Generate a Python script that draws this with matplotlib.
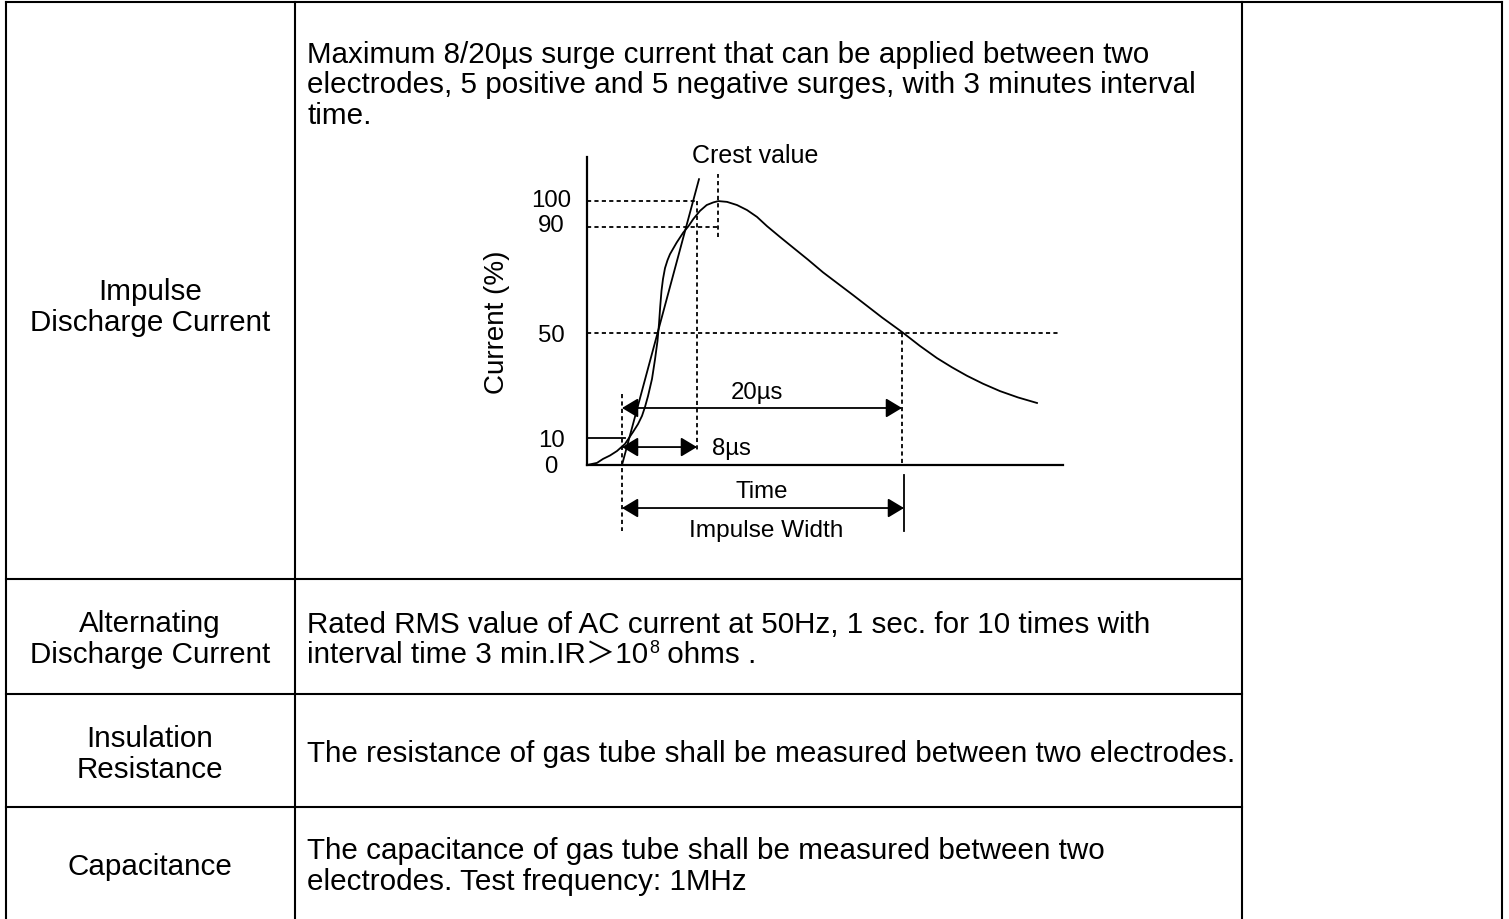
import numpy as np
import matplotlib.pyplot as plt

plt.rcParams["font.family"] = ["Liberation Sans", "Noto Sans CJK SC", "DejaVu Sans"]

W, H = 1509, 920

# ---- table content ----
row_names = [["Impulse", "Discharge Current"],
             ["Alternating", "Discharge Current"],
             ["Insulation", "Resistance"],
             ["Capacitance"]]
row_text = [["Maximum 8/20\u00b5s surge current that can be applied between two",
             "electrodes, 5 positive and 5 negative surges, with 3 minutes interval",
             "time."],
            ["Rated RMS value of AC current at 50Hz, 1 sec. for 10 times with"],
            ["The resistance of gas tube shall be measured between two electrodes."],
            ["The capacitance of gas tube shall be measured between two",
             "electrodes. Test frequency: 1MHz"]]

# ---- 8/20us waveform (time in arbitrary units, current in %) ----
t_wave = [0, 1.0, 1.6, 2.3, 3.0, 3.8, 4.6, 5.1, 5.5, 5.8, 6.1, 6.5, 6.8, 7.05, 7.2,
          7.32, 7.45, 7.6, 7.8, 8.05, 8.3, 8.97, 9.63, 10.13, 10.63, 11.3, 11.97, 12.63, 13.13,
          14.0, 15.0, 16.0, 17.0, 18.0, 19.3, 20.6, 22.1, 23.6, 25.1, 26.6, 28.0,
          29.5, 31.5, 33.3, 35.0, 36.5, 38.0, 39.6, 41.3, 43.1, 45.0]
i_wave = [0, 0.8, 2.3, 3.6, 5.3, 8.0, 12.5, 15.5, 18.6, 22.0, 26.1, 32.6, 40.0, 47.0, 53.5,
          60.0, 66.0, 70.5, 74.6, 77.6, 79.9, 84.3, 88.1, 90.4, 93.2, 96.3, 98.5, 99.5, 100,
          99.7, 98.5, 96.6, 94.0, 90.5, 86.4, 82.4, 77.8, 73.0, 68.7, 64.4, 60.3,
          55.9, 50.4, 45.1, 40.5, 37.0, 33.8, 30.8, 28.0, 25.6, 23.5]
tangent_t = [3.5, 11.2]
tangent_i = [0, 108.3]
y_labels = [100, 90, 50, 10, 0]
y_label_base = [-1.9, -1.3, -2.9, -2.7, -2.8]   # baseline offsets (%)

fig = plt.figure(figsize=(W / 100, H / 100), dpi=100)
ax = fig.add_axes([0, 0, 1, 1])
ax.set_xlim(0, W)
ax.set_ylim(H, 0)
ax.axis("off")

lw_tab = 1.5
for x in [6, 295, 1242, 1502]:
    ax.plot([x, x], [3, H + 5], color="k", lw=lw_tab, solid_capstyle="projecting")
ax.plot([6, 1502], [3, 3], color="k", lw=lw_tab, solid_capstyle="projecting")
for y in [580, 695, 808]:
    ax.plot([6, 1242], [y, y], color="k", lw=lw_tab)

fs = 21.3
# left column labels (baselines in px)
left_base = [[300, 331], [632, 663], [747, 778], [875]]
for names, bases in zip(row_names, left_base):
    for s, b in zip(names, bases):
        ax.text(150, b, s, ha="center", va="baseline", fontsize=fs)

right_base = [[63, 93, 124], [633], [762], [859, 890]]
for lines, bases in zip(row_text, right_base):
    for s, b in zip(lines, bases):
        ax.text(307, b, s, ha="left", va="baseline", fontsize=fs)

# "interval time 3 min.IR>10^8 ohms ." with a superscript
yb = 663
t1 = ax.text(307, yb, "interval time 3 min.IR\uff1e10", ha="left", va="baseline", fontsize=fs)
fig.canvas.draw()
bb = t1.get_window_extent()
t2 = ax.text(bb.x1 + 1, yb - 10, "8", ha="left", va="baseline", fontsize=13)
fig.canvas.draw()
bb2 = t2.get_window_extent()
ax.text(bb2.x1, yb, " ohms .", ha="left", va="baseline", fontsize=fs)

# ---- waveform diagram ----
axd = fig.add_axes([587 / W, 1 - 466 / H, (1063 - 587) / W, (466 - 158) / H])
axd.set_xlim(0, 47.6)
axd.set_ylim(0, 116.7)
axd.patch.set_visible(False)
for s in ["top", "right"]:
    axd.spines[s].set_visible(False)
for s in ["left", "bottom"]:
    axd.spines[s].set_linewidth(1.6)
axd.set_xticks([])
axd.set_yticks([])

lw = 1.3
dash = (0, (2.3, 1.8))
axd.plot(t_wave, i_wave, color="k", lw=lw, clip_on=False, solid_joinstyle="round")
axd.plot(tangent_t, tangent_i, color="k", lw=lw, clip_on=False)

axd.plot([0, 11.0], [100, 100], color="k", lw=lw, ls=dash)
axd.plot([0, 13.0], [90, 90], color="k", lw=lw, ls=dash)
axd.plot([0, 47.3], [50, 50], color="k", lw=lw, ls=dash)
axd.plot([13.1, 13.1], [86.4, 110.2], color="k", lw=lw, ls=dash, clip_on=False)
axd.plot([11.0, 11.0], [100, 5.3], color="k", lw=lw, ls=dash)
axd.plot([3.5, 3.5], [26.9, -25], color="k", lw=lw, ls=dash, clip_on=False)
axd.plot([31.5, 31.5], [50, 0], color="k", lw=lw, ls=dash)
axd.plot([31.7, 31.7], [-3.8, -25], color="k", lw=lw, clip_on=False)
axd.plot([0, 3.8], [10.3, 10.3], color="k", lw=lw)

arrow = dict(arrowstyle="<|-|>,head_length=0.7,head_width=0.42", color="k",
             lw=lw, mutation_scale=14, shrinkA=0, shrinkB=0)
axd.annotate("", xy=(31.5, 21.6), xytext=(3.5, 21.6), arrowprops=arrow, annotation_clip=False)
axd.annotate("", xy=(11.0, 6.8), xytext=(3.5, 6.8), arrowprops=arrow, annotation_clip=False)
axd.annotate("", xy=(31.7, -16.3), xytext=(3.5, -16.3), arrowprops=arrow, annotation_clip=False)

fsd = 17.3
for v, off in zip(y_labels, y_label_base):
    axd.text(-3.6, v + off, str(v), ha="center", va="baseline", fontsize=fsd)
axd.text(16.8, 114.7, "Crest value", ha="center", va="baseline", fontsize=18)
axd.text(17.0, 25.4, "20\u00b5s", ha="center", va="baseline", fontsize=fsd)
axd.text(12.5, 4.2, "8\u00b5s", ha="left", va="baseline", fontsize=fsd)
axd.text(17.5, -12.1, "Time", ha="center", va="baseline", fontsize=fsd)
axd.text(17.9, -26.8, "Impulse Width", ha="center", va="baseline", fontsize=17.6)
axd.text(-9.0, 54.5, "Current (%)", ha="center", va="center", rotation=90, fontsize=20)

fig.savefig("out.png", dpi=100)
